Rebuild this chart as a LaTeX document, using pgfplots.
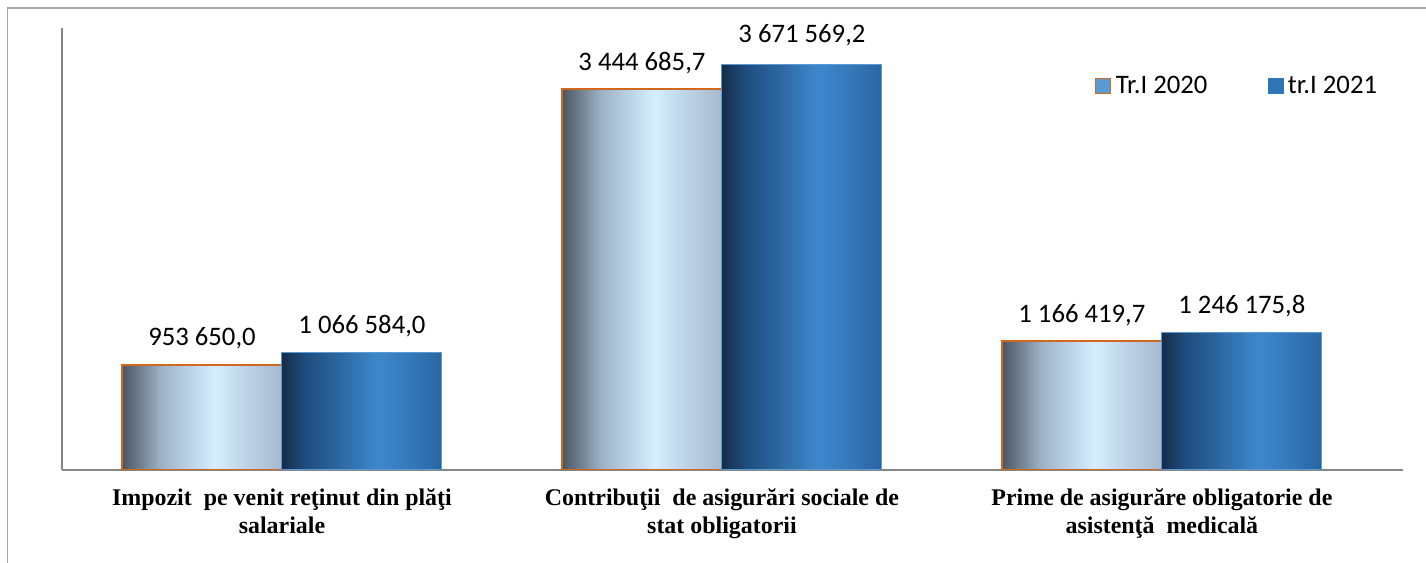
\documentclass[border=0pt]{standalone}
\usepackage{fontspec}
\usepackage{pgfplots}
\pgfplotsset{compat=1.18}
\setmainfont{Carlito}
\newfontfamily\tnr{Liberation Serif}

\definecolor{axisgray}{HTML}{868686}
\definecolor{framegray}{HTML}{A6A6A6}
\definecolor{oorange}{HTML}{D0691F}
\definecolor{edgeblue}{HTML}{5B9BD5}
\definecolor{legl}{HTML}{5B9BD5}
\definecolor{legd}{HTML}{2E75B6}

% light bars (Tr.I 2020): grey left edge -> pale blue highlight
\definecolor{la}{HTML}{4B5560}
\definecolor{lb}{HTML}{9FB3C8}
\definecolor{lc}{HTML}{C8E0F4}
\definecolor{ld}{HTML}{D6EEFC}
\definecolor{le}{HTML}{C0D6EA}
\definecolor{lf}{HTML}{A7B9CC}
\pgfdeclarehorizontalshading{lightbar}{100bp}{color(0bp)=(la); color(25bp)=(la);
  color(37.5bp)=(lb); color(50bp)=(lc); color(54bp)=(ld); color(62.5bp)=(le);
  color(75bp)=(lf); color(100bp)=(lf)}
% dark bars (tr.I 2021)
\definecolor{da}{HTML}{162D4A}
\definecolor{db}{HTML}{1F4E7F}
\definecolor{dc}{HTML}{2C66A0}
\definecolor{dd}{HTML}{3A82C4}
\definecolor{de}{HTML}{3D87CC}
\definecolor{df}{HTML}{3578BA}
\definecolor{dg}{HTML}{2A65A3}
\pgfdeclarehorizontalshading{darkbar}{100bp}{color(0bp)=(da); color(25bp)=(da);
  color(32.5bp)=(db); color(42.5bp)=(dc); color(52.5bp)=(dd); color(56bp)=(de);
  color(65bp)=(df); color(75bp)=(dg); color(100bp)=(dg)}

% one plot per bar so that every bar gets its own shading
\pgfplotsset{
  lightbar/.style={forget plot, bar shift=-80bp, shade, shading=lightbar,
    draw=oorange, line width=1.8bp},
  darkbar/.style={forget plot, bar shift=80bp, shade, shading=darkbar,
    draw=edgeblue, line width=1bp},
}

\begin{document}
\begin{tikzpicture}[x=1bp,y=1bp]
\useasboundingbox (0,0) rectangle (1426,563);
% outer frame (top and left edges visible)
\draw[framegray, line width=1.3bp] (7.5,0) -- (7.5,555) -- (1426,555);

\begin{axis}[
    at={(62bp,93bp)}, anchor=south west,
    scale only axis,
    width=1341bp, height=442bp,
    ybar, bar width=160bp,
    xmin=-0.5, xmax=2.548,
    ymin=0, ymax=4000000,
    axis x line=bottom, axis y line=left,
    axis line style={axisgray, -},
    x axis line style={line width=2.5bp},
    y axis line style={line width=1.5bp},
    ytick=\empty,
    xtick={0,1,2},
    major tick length=0pt,
    xticklabels={
      {Impozit\ \ pe venit reţinut din plăţi\\salariale},
      {Contribuţii\ \ de asigurări sociale de\\stat obligatorii},
      {Prime de asigurăre obligatorie de\\asistenţă\ \ medicală}},
    xticklabel style={font=\tnr\bfseries\fontsize{24}{28.5}\selectfont,
      align=center, yshift=-15bp},
    point meta=explicit symbolic,
    nodes near coords={\pgfplotspointmeta},
    every node near coord/.append style={font=\fontsize{26.8}{30}\selectfont,
      anchor=base, yshift=19bp, black},
    legend columns=2,
    legend style={draw=none, fill=none, at={(0.7703,0.8688)}, anchor=west,
      font=\fontsize{26.8}{30}\selectfont, inner sep=0pt,
      nodes={inner sep=4.5bp},
      /tikz/every even column/.append style={column sep=56bp}},
  ]
% Tr.I 2020
\addplot[lightbar] coordinates {(0,953650.0) [953 650,0]};
\addplot[lightbar] coordinates {(1,3444685.7) [3 444 685,7]};
\addplot[lightbar] coordinates {(2,1166419.7) [1 166 419,7]};
% tr.I 2021
\addplot[darkbar] coordinates {(0,1066584.0) [1 066 584,0]};
\addplot[darkbar, every node near coord/.append style={yshift=3bp}]
  coordinates {(1,3671569.2) [3 671 569,2]};
\addplot[darkbar] coordinates {(2,1246175.8) [1 246 175,8]};

\addlegendimage{legend image code/.code={\draw[draw=oorange, fill=legl, line width=1.2bp]
    (0bp,-7.5bp) rectangle (15bp,7.5bp);}}
\addlegendentry{Tr.I 2020}
\addlegendimage{legend image code/.code={\fill[legd] (0bp,-7.5bp) rectangle (15bp,7.5bp);}}
\addlegendentry{tr.I 2021}
\end{axis}
\end{tikzpicture}
\end{document}
